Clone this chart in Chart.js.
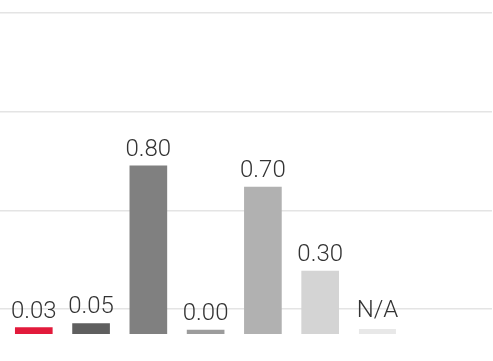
<!DOCTYPE html>
<html>
<head>
<meta charset="utf-8">
<script src="https://cdn.jsdelivr.net/npm/chart.js@4/dist/chart.umd.min.js"></script>
<style>
  html, body { margin: 0; padding: 0; background: #ffffff; }
  #wrap { width: 493px; height: 361px; position: relative; }
</style>
</head>
<body>
<div id="wrap"><canvas id="chart"></canvas></div>
<script>
// Scores per item; null means no value available (shown as N/A)
const categories = ['Item 1', 'Item 2', 'Item 3', 'Item 4', 'Item 5', 'Item 6', 'Item 7'];
const values = [0.03, 0.05, 0.80, 0.00, 0.70, 0.30, null];
const barColors = ['#e21a3b', '#5f5f5f', '#808080', '#9c9c9c', '#b1b1b1', '#d4d4d4', '#e8e8e8'];
// Horizontal guide lines (value levels)
const gridLevels = [0.118, 0.588, 1.059, 1.529];

const BAR_WIDTH = 37;
const STUB_HEIGHT = 5;
const LABEL_GAP = 10;
const LABEL_FONT = '300 24px Roboto, "Liberation Sans", Arial, sans-serif';

// Draws the value text above every bar, and a short placeholder for missing values
const valueLabels = {
  id: 'valueLabels',
  afterDatasetsDraw(chart) {
    const { ctx, scales: { x, y } } = chart;
    const meta = chart.getDatasetMeta(0);
    ctx.save();
    ctx.textAlign = 'center';
    ctx.textBaseline = 'alphabetic';
    values.forEach((v, i) => {
      let cx, top;
      if (v === null) {
        cx = x.getPixelForValue(i);
        top = y.getPixelForValue(0) - STUB_HEIGHT;
        ctx.fillStyle = barColors[i];
        ctx.fillRect(cx - BAR_WIDTH / 2, top, BAR_WIDTH, STUB_HEIGHT);
        top -= 2;
      } else {
        const bar = meta.data[i];
        cx = bar.x;
        top = bar.y;
      }
      ctx.font = LABEL_FONT;
      ctx.fillStyle = '#333333';
      ctx.fillText(v === null ? 'N/A' : v.toFixed(2), cx, top - LABEL_GAP);
    });
    ctx.restore();
  }
};

new Chart(document.getElementById('chart'), {
  type: 'bar',
  data: {
    datasets: [{
      label: 'Score',
      data: values.map((v, i) => ({ x: i, y: v, name: categories[i] })),
      backgroundColor: barColors,
      borderWidth: 0,
      barThickness: BAR_WIDTH,
      minBarLength: 4
    }]
  },
  options: {
    responsive: true,
    maintainAspectRatio: false,
    animation: false,
    devicePixelRatio: 1,
    layout: { padding: { top: 0, left: 0, right: 1, bottom: 27 } },
    plugins: {
      legend: { display: false },
      tooltip: { enabled: false }
    },
    scales: {
      x: {
        type: 'linear',
        min: -0.59,
        max: 8,
        offset: false,
        display: false
      },
      y: {
        type: 'linear',
        min: 0,
        max: 1.59,
        display: true,
        border: { display: false },
        ticks: { display: false },
        grid: { color: '#e4e4e4', lineWidth: 1.6, drawTicks: false },
        afterBuildTicks(scale) {
          scale.ticks = gridLevels.map(v => ({ value: v }));
        }
      }
    }
  },
  plugins: [valueLabels]
});
</script>
</body>
</html>
